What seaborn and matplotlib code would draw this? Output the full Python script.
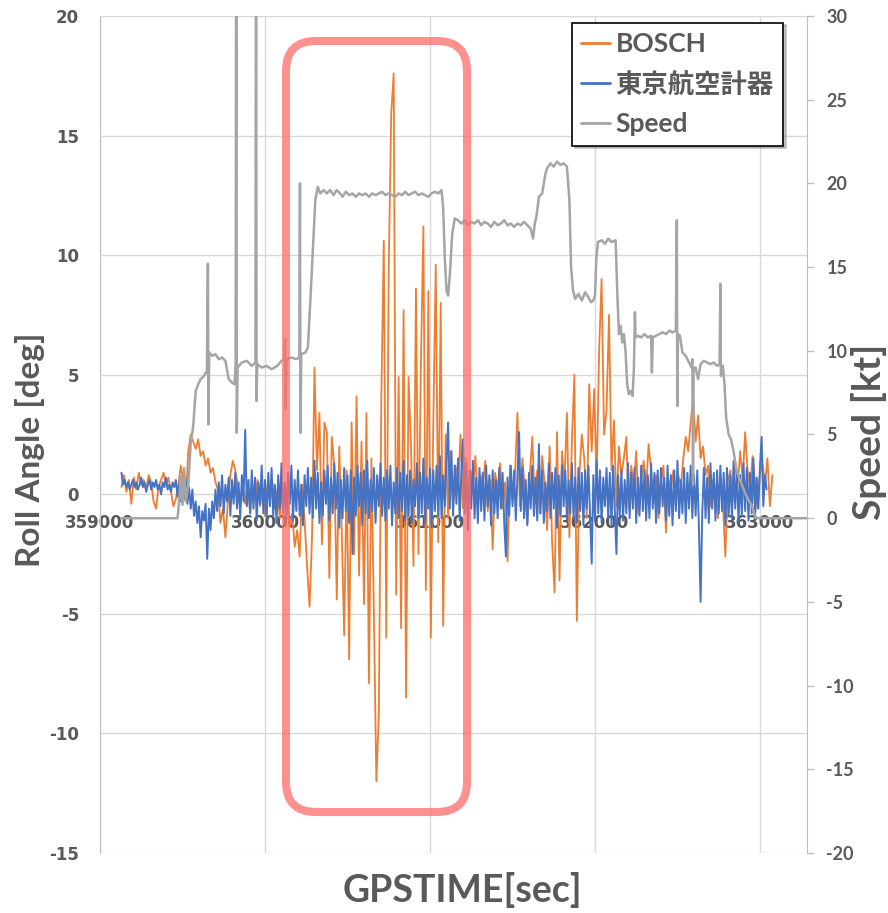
import numpy as np
import seaborn as sns
import matplotlib.pyplot as plt
import matplotlib.patches as mpatches
from matplotlib.lines import Line2D

sns.set_style("white")
plt.rcParams['font.family'] = ['Lato', 'Noto Sans CJK JP', 'DejaVu Sans']

# ---- data ----
t_start = 359130      # first GPS second of roll logs
bosch_step = 15       # seconds between BOSCH samples
tkk_step = 10         # seconds between 東京航空計器 samples

bosch = [0.3, 0.8, 0.1, 0.6, -0.4, 0.7, 0.2, 0.9, 0.4, 0.6,
         0.2, 0.8, 0.5, -0.3, -0.6, 0.3, 0.6, 0.9, 0.4, 0.7,
         0.1, -0.5, -0.2, 0.4, 1.2, 0.5, -0.3, 1.8, 2.5, 2.2,
         1.9, 2.3, 1.6, 1.8, 1.2, 1.5, 0.9, 1.1, 0.5, 0.2,
         -1.2, -0.6, -1.8, -0.3, 0.8, 1.4, 1.0, 0.4, -0.5, 0.3,
         -0.4, 0.5, -0.8, 0.3, -0.2, 0.6, -0.5, 0.2, -0.9, 0.4,
         -0.3, 0.5, -0.6, 0.2, -1.0, 0.4, -0.5, 0.3, -1.4, -0.8,
         -2.2, -1.5, -2.6, 0.4, -1.1, -3.0, -4.7, -1.8, 5.3, 1.0,
         3.4, -2.1, 3.0, 2.6, -3.5, 2.4, 1.2, -4.4, 2.0, -1.5,
         -5.9, 1.0, -6.9, 3.0, -2.5, 4.1, -3.4, 2.2, -4.6, 3.4,
         -7.9, 1.5, -5.0, -12.0, -9.2, 4.0, 10.6, -6.0, 9.5, 15.9,
         17.6, -4.2, 4.9, -5.6, 7.7, -8.5, 4.9, 2.0, -3.0, 8.6,
         -2.5, 5.5, 11.2, -4.0, 8.5, -6.0, 3.0, 9.6, -2.0, 8.0,
         -5.5, 2.5, -1.0, 1.8, -0.5, 1.2, 0.3, 2.5, -0.6, 1.5,
         -0.8, 1.0, 0.2, 1.6, -0.4, 0.8, 0.3, 1.4, -0.7, 0.6,
         -2.3, 0.9, 0.2, 1.3, -0.6, 0.5, -2.8, 1.2, -0.3, 0.8,
         3.4, -0.5, 1.5, 0.2, -1.2, 0.8, 2.4, -0.4, 1.0, -0.8,
         1.6, 0.4, -1.5, 2.0, -2.0, -4.1, 2.6, -3.6, 1.8, 0.5,
         3.4, -1.8, 2.2, 5.0, -5.3, 0.8, 2.5, 1.5, -1.0, 4.6,
         1.8, 4.4, 0.5, 6.0, 9.0, 2.5, 3.5, 7.5, 1.0, 3.1,
         -0.5, 2.0, 0.8, 1.5, 2.4, -0.6, 1.2, 0.3, 1.8, -0.8,
         0.6, 1.4, 0.2, 2.1, 1.0, -0.4, 0.8, -1.0, 0.5, 1.2,
         -1.6, 0.6, 0.2, 1.0, -0.5, 0.8, 0.3, 1.5, 2.4, 1.8,
         3.0, 4.1, 2.2, 3.3, 1.5, 2.0, 0.8, 1.2, -0.5, 0.6,
         0.2, -1.0, 0.8, -0.4, -2.6, 0.5, 1.0, -0.3, 1.4, 0.4,
         1.8, 0.6, 2.6, 1.0, 0.2, 1.6, 0.5, -0.6, 0.9, 1.3,
         0.4, 1.5, -0.5, 0.8]

tkk = [0.9, 0.4, 0.6, 0.3, 0.5, 0.2, 0.4, 0.6, 0.3, 0.5,
       0.2, 0.4, 0.7, 0.3, 0.5, 0.1, 0.4, 0.6, 0.2, 0.5,
       0.3, 0.6, 0.2, 0.4, 0.0, 0.5, 0.3, 0.7, 0.2, 0.4,
       0.1, 0.5, 0.3, 0.6, -0.1, 0.4, -0.3, 0.5, -0.2, 0.6,
       -0.4, 0.3, -0.6, 0.2, -0.9, -0.3, -1.2, -0.5, -1.8, -0.7,
       -1.1, -0.4, -2.7, -0.6, -1.5, -0.3, -1.0, 0.2, -0.7, 0.5,
       -0.5, 0.8, -0.8, 0.4, -0.3, 0.7, -0.9, 0.6, -0.4, 0.9,
       -0.6, 0.5, -1.0, 0.8, -0.3, 2.7, -0.5, 0.6, -0.8, 1.0,
       -0.6, 0.7, -1.1, 0.5, -0.4, 1.2, -0.8, 0.6, -1.0, 0.9,
       -0.5, 1.1, -0.9, 0.4, -1.2, 0.8, -0.6, 1.3, -0.8, 0.5,
       -1.0, 0.9, -0.4, 1.2, -1.1, 0.6, -0.7, 1.0, -0.9, 0.4,
       -1.3, 0.8, -0.5, 1.1, -0.8, 0.7, -1.0, 1.4, -0.6, 0.9,
       -1.2, 0.5, -0.9, 1.0, -0.4, 1.2, -1.1, 0.7, -0.8, 1.3,
       -0.6, 0.9, -1.4, 0.6, -1.0, 1.1, -0.7, 0.8, -1.2, 1.0,
       -2.5, 0.7, -0.9, 1.2, -0.5, 0.9, -1.3, 1.0, -0.8, 1.4,
       -1.0, 0.6, -0.7, 1.1, -1.2, 0.8, -0.5, 1.3, -0.9, 0.7,
       -1.1, 1.0, -0.6, 1.2, -1.3, 0.5, -0.8, 1.1, -1.0, 0.9,
       -0.7, 1.4, -1.1, 0.8, -0.9, 1.0, -1.2, 0.6, -0.5, 1.3,
       -1.0, 0.9, -0.8, 1.5, -1.2, 0.7, -0.6, 1.1, -1.4, 1.0,
       -0.7, 1.2, -0.9, 1.6, -1.0, 0.8, -0.5, 1.4, 3.0, -0.6,
       1.8, -0.9, 1.2, -0.4, 1.5, -1.1, 0.9, 2.3, -0.8, 1.3,
       -1.5, 1.0, -0.6, 1.4, -1.0, 0.7, -1.2, 1.1, -0.7, 0.9,
       -1.1, 1.2, -0.5, 0.8, -1.3, 1.0, -0.8, 0.6, -1.0, 1.1,
       -0.6, 0.9, -1.2, -2.6, 0.7, -0.9, 1.2, -0.5, 1.0, -1.1,
       0.8, 2.6, -0.7, 1.1, -1.0, 0.6, -1.3, 0.9, -0.6, 1.2,
       -0.9, 0.7, -1.1, 2.1, -0.8, 1.0, -1.2, 0.5, -0.7, 1.3,
       -1.0, 0.9, -0.6, 1.1, -1.4, 0.8, -0.9, 1.2, -0.5, 1.0,
       -1.1, 0.6, -0.8, 1.3, -1.0, 0.7, -1.2, 1.1, -0.7, 0.9,
       -1.3, 1.0, -0.6, 1.2, -0.9, -2.9, 0.8, -1.1, 1.4, -0.8,
       1.0, -1.2, 0.7, -0.5, 1.1, -1.0, 0.9, -1.3, 1.2, -0.7,
       -2.5, 0.8, -0.9, 1.0, -1.1, 0.6, -0.8, 1.3, -1.0, 0.9,
       -0.6, 1.1, -1.2, 0.7, -0.9, 1.2, -0.7, 1.0, -1.1, 0.8,
       -1.0, 1.3, -0.6, 0.9, -1.2, 1.0, -0.8, 1.1, -0.5, 0.7,
       -1.1, 1.2, -0.9, 0.8, -1.3, 1.0, -0.7, 1.4, -1.0, 0.6,
       -0.8, 1.1, -1.2, 0.9, -0.6, 1.2, -1.0, 0.8, -0.9, 1.0,
       -1.4, -4.5, -0.8, 1.1, -1.0, 0.7, -1.2, 1.3, -0.6, 0.9,
       -1.1, 1.0, -0.8, 1.2, -0.7, 0.9, -1.3, 1.1, -0.9, 0.8,
       -1.0, 1.4, -0.6, 1.0, -1.2, 0.8, -0.9, 1.3, -0.7, 1.1,
       -1.1, 0.9, -0.8, 1.5, -1.0, 0.7, -0.6, 1.2, 2.4, -0.5,
       0.8, 0.2]

speed_t = [359130, 359470, 359480, 359490, 359500, 359510, 359520, 359535,
           359550, 359565, 359580, 359595, 359610, 359630, 359648, 359654,
           359657, 359662, 359680, 359700, 359720, 359740, 359760, 359780,
           359800, 359815, 359822, 359826, 359829, 359834, 359860, 359890,
           359920, 359942, 359946, 359949, 359953, 359980, 360010, 360040,
           360075, 360100, 360118, 360122, 360125, 360130, 360160, 360190,
           360208, 360212, 360215, 360220, 360245, 360260, 360275, 360290,
           360305, 360320, 360335, 360355, 360375, 360395, 360415, 360435,
           360455, 360470, 360490, 360510, 360530, 360550, 360570, 360590,
           360610, 360630, 360650, 360670, 360690, 360710, 360730, 360750,
           360770, 360790, 360810, 360830, 360850, 360870, 360890, 360910,
           360930, 360950, 360970, 360990, 361010, 361030, 361050, 361070,
           361080, 361090, 361100, 361110, 361120, 361135, 361150, 361170,
           361190, 361210, 361230, 361250, 361270, 361290, 361310, 361330,
           361350, 361370, 361390, 361410, 361430, 361450, 361470, 361490,
           361510, 361530, 361550, 361570, 361590, 361610, 361625, 361635,
           361645, 361660, 361680, 361700, 361710, 361730, 361750, 361770,
           361790, 361810, 361830, 361845, 361855, 361867, 361880, 361900,
           361920, 361940, 361960, 361975, 361990, 362000, 362008, 362018,
           362040, 362060, 362080, 362100, 362125, 362135, 362145, 362155,
           362165, 362175, 362185, 362195, 362205, 362215, 362228, 362236,
           362242, 362246, 362260, 362280, 362300, 362320, 362340, 362345,
           362350, 362370, 362390, 362410, 362430, 362450, 362470, 362490,
           362496, 362499, 362503, 362515, 362530, 362550, 362570, 362585,
           362590, 362594, 362598, 362610, 362625, 362640, 362660, 362680,
           362700, 362720, 362740, 362755, 362760, 362763, 362775, 362785,
           362795, 362810, 362825, 362840, 362855, 362870, 362890, 362910,
           362935, 362950, 362965, 362975, 363285]

speed_v = [0.0, 0.0, 1.0, 2.5, 0.8, 3.0, 1.0, 2.0,
           4.5, 5.5, 7.6, 8.0, 8.3, 8.5, 8.8, 15.2,
           5.6, 9.9, 9.7, 9.8, 9.5, 9.6, 9.4, 8.3,
           8.1, 8.0, 9.2, 40.0, 5.1, 9.0, 9.3, 9.4,
           9.1, 9.3, 40.0, 7.0, 9.2, 9.0, 9.1, 8.9,
           9.1, 9.4, 9.5, 10.7, 6.5, 9.5, 9.6, 9.5,
           9.6, 20.0, 5.1, 9.8, 9.9, 10.2, 13.0, 16.0,
           19.0, 19.8, 19.4, 19.6, 19.4, 19.6, 19.3, 19.6,
           19.4, 19.2, 19.5, 19.3, 19.4, 19.2, 19.4, 19.3,
           19.4, 19.2, 19.4, 19.3, 19.4, 19.5, 19.3, 19.4,
           19.3, 19.2, 19.4, 19.3, 19.5, 19.3, 19.4, 19.5,
           19.3, 19.4, 19.3, 19.2, 19.4, 19.5, 19.4, 19.6,
           18.5, 15.5, 13.6, 13.3, 14.5, 17.0, 17.9, 17.8,
           17.6, 17.8, 17.5, 17.7, 17.6, 17.8, 17.5, 17.7,
           17.6, 17.4, 17.7, 17.5, 17.6, 17.8, 17.5, 17.6,
           17.4, 17.6, 17.5, 17.7, 17.5, 17.3, 16.7, 17.6,
           18.0, 19.2, 19.4, 20.6, 20.9, 21.2, 21.0, 21.3,
           21.1, 21.2, 21.0, 19.0, 15.0, 13.6, 13.1, 13.4,
           13.0, 13.5, 13.2, 12.9, 13.0, 13.3, 15.5, 16.5,
           16.6, 16.4, 16.7, 16.5, 16.6, 13.5, 11.0, 11.5,
           10.5, 11.0, 10.0, 8.0, 7.4, 7.6, 7.3, 9.0,
           12.3, 10.8, 10.9, 10.8, 11.0, 10.8, 10.9, 8.7,
           10.8, 10.9, 11.0, 11.1, 11.0, 11.2, 11.1, 11.2,
           17.8, 6.7, 11.0, 10.9, 9.9, 9.7, 9.3, 9.0,
           9.5, 2.0, 9.0, 9.0, 8.3, 9.2, 9.4, 9.3,
           9.2, 9.3, 9.1, 9.2, 14.0, 8.5, 9.1, 8.0,
           6.0, 5.0, 4.7, 4.0, 3.0, 2.5, 2.0, 1.5,
           1.0, 0.8, 0.3, 0.0, 0.0]

x_ticks = [359000, 360000, 361000, 362000, 363000]
roll_ticks = [-15, -10, -5, 0, 5, 10, 15, 20]
speed_ticks = [-20, -15, -10, -5, 0, 5, 10, 15, 20, 25, 30]
series_names = ['BOSCH', '東京航空計器', 'Speed']
colors = ['#ED7D31', '#4472C4', '#A5A5A5']

bosch_t = t_start + bosch_step * np.arange(len(bosch))
tkk_t = t_start + tkk_step * np.arange(len(tkk))

txt = '#595959'
grid_c = '#d9d9d9'

fig = plt.figure(figsize=(8.88, 9.13), dpi=100)
ax = fig.add_axes([0.1126, 0.0657, 0.7962, 0.9168])
ax2 = ax.twinx()

sns.lineplot(x=bosch_t, y=bosch, ax=ax, color=colors[0], linewidth=1.3,
             sort=False, estimator=None)
sns.lineplot(x=tkk_t, y=tkk, ax=ax, color=colors[1], linewidth=1.4,
             sort=False, estimator=None)
sns.lineplot(x=speed_t, y=speed_v, ax=ax2, color=colors[2], linewidth=1.8,
             sort=False, estimator=None)

ax.set_xlim(359000, 363285)
ax.set_ylim(-15, 20)
ax2.set_ylim(-20, 30)
ax.set_xticks(x_ticks)
ax.set_yticks(roll_ticks)
ax2.set_yticks(speed_ticks)
ax.set_xticklabels([str(v) for v in x_ticks])
ax.set_yticklabels([str(v) for v in roll_ticks])
ax2.set_yticklabels([str(v) for v in speed_ticks])

ax.grid(True, color=grid_c, linewidth=1)
ax.set_axisbelow(True)
ax2.grid(False)

# x axis crosses at roll = 0 like Excel, kept under the data lines
ax.spines['bottom'].set_position(('data', 0))
ax.spines['bottom'].set_color(grid_c)
ax.spines['bottom'].set_zorder(0.5)
ax.spines['left'].set_color('#bfbfbf')
ax.spines['top'].set_visible(False)
ax.spines['right'].set_visible(False)
for s in ['left', 'top', 'bottom']:
    ax2.spines[s].set_visible(False)
ax2.spines['right'].set_color('#bfbfbf')

ax.tick_params(axis='x', length=0, pad=14, labelsize=12, labelcolor=txt)
ax.tick_params(axis='y', length=0, pad=15, labelsize=12, labelcolor=txt)
ax2.tick_params(axis='y', length=5, width=1, color='#bfbfbf', pad=9,
                labelsize=13, labelcolor=txt)
for lb in ax.get_xticklabels() + ax.get_yticklabels():
    lb.set_fontfamily('DejaVu Sans')
    lb.set_fontweight('bold')
for lb in ax2.get_yticklabels():
    lb.set_fontweight('bold')

fig.text(30 / 888, 1 - 450 / 913, 'Roll Angle [deg]', rotation=90,
         ha='center', va='center', fontsize=24, fontweight='bold', color=txt)
fig.text(869 / 888, 1 - 432 / 913, 'Speed [kt]', rotation=90,
         ha='center', va='center', fontsize=28, fontweight='bold', color=txt)
fig.text(462 / 888, 1 - 890 / 913, 'GPSTIME[sec]', ha='center', va='center',
         fontsize=27, fontweight='bold', color=txt)

handles = [Line2D([0], [0], color=c, lw=2) for c in colors]
leg = ax2.legend(handles, series_names, loc='upper right',
                 bbox_to_anchor=(0.966, 0.992), borderaxespad=0,
                 frameon=True, fancybox=False, framealpha=1,
                 edgecolor='black', shadow={'color': '0.55', 'alpha': 0.5},
                 prop={'weight': 'bold', 'size': 19}, labelcolor=txt,
                 handlelength=1.1, handletextpad=0.2, labelspacing=0.6,
                 borderpad=0.35)
leg.get_frame().set_linewidth(1.2)

# highlight box drawn over the plot
box = mpatches.FancyBboxPatch((2.86, 1.01), 1.81, 7.71,
                              boxstyle=mpatches.BoxStyle('Round', pad=0, rounding_size=0.3),
                              transform=fig.dpi_scale_trans, fill=False,
                              edgecolor='#ff6b6b', alpha=0.75, linewidth=5.8)
fig.add_artist(box)

fig.savefig('out.png', dpi=100)
